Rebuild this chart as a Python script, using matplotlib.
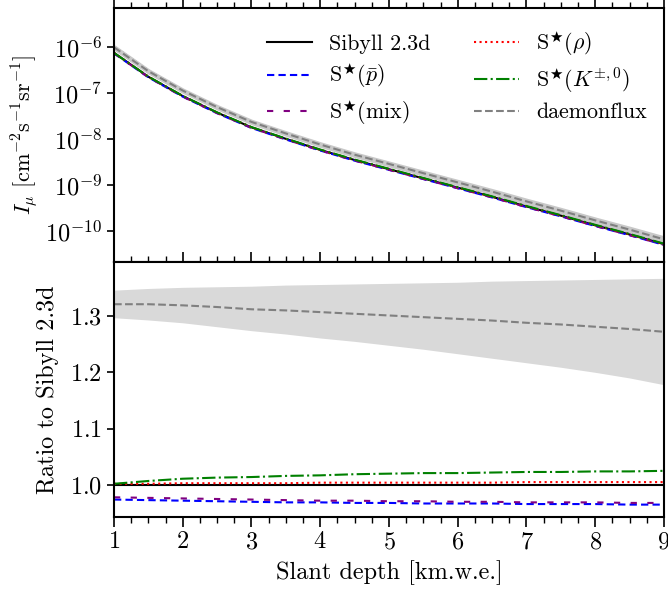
import numpy as np
import matplotlib
matplotlib.use("Agg")
import matplotlib.pyplot as plt

plt.rcParams['font.family'] = 'serif'
plt.rcParams['font.serif'] = ['cmr10', 'DejaVu Serif']
plt.rcParams['mathtext.fontset'] = 'cm'
plt.rcParams['axes.formatter.use_mathtext'] = True
plt.rcParams['font.size'] = 17.5

# slant depth grid [km.w.e.]
depth = [1.0, 1.5, 2.0, 2.5, 3.0, 3.5, 4.0, 4.5, 5.0, 5.5, 6.0, 6.5, 7.0, 7.5, 8.0, 8.5, 9.0]

# log10 of Sibyll 2.3d intensity
log_sibyll = [-6.13, -6.65, -7.07, -7.43, -7.75, -8.00, -8.24, -8.46, -8.66,
              -8.86, -9.06, -9.26, -9.47, -9.67, -9.88, -10.08, -10.29]

# ratios to Sibyll 2.3d
ratio_pbar = [0.974, 0.973, 0.972, 0.971, 0.970, 0.969, 0.969, 0.968, 0.968,
              0.967, 0.967, 0.967, 0.966, 0.966, 0.966, 0.965, 0.965]
ratio_mix = [0.978, 0.977, 0.976, 0.975, 0.974, 0.973, 0.972, 0.972, 0.971,
             0.971, 0.970, 0.970, 0.969, 0.969, 0.969, 0.968, 0.968]
ratio_rho = [1.002, 1.002, 1.003, 1.003, 1.003, 1.003, 1.004, 1.004, 1.004,
             1.004, 1.004, 1.004, 1.005, 1.005, 1.005, 1.005, 1.005]
ratio_kaon = [1.002, 1.007, 1.011, 1.013, 1.014, 1.016, 1.017, 1.019, 1.020,
              1.021, 1.021, 1.022, 1.023, 1.023, 1.024, 1.024, 1.025]
ratio_daemon = [1.321, 1.321, 1.319, 1.316, 1.312, 1.310, 1.307, 1.304, 1.301,
                1.298, 1.295, 1.292, 1.288, 1.285, 1.281, 1.277, 1.272]
daemon_hi = [1.346, 1.349, 1.351, 1.352, 1.353, 1.355, 1.356, 1.357, 1.358,
             1.359, 1.360, 1.362, 1.363, 1.364, 1.365, 1.366, 1.367]
daemon_lo = [1.297, 1.293, 1.288, 1.281, 1.274, 1.268, 1.261, 1.255, 1.248,
             1.241, 1.233, 1.225, 1.217, 1.209, 1.200, 1.190, 1.178]

x = np.array(depth)
sib = 10 ** np.array(log_sibyll)

fig = plt.figure(figsize=(6.68, 5.90), dpi=100)
left, right = 114 / 668, 664 / 668
y_top = 1 - 8 / 590
y_mid = 1 - 262 / 590
y_bot = 1 - 517 / 590
ax1 = fig.add_axes([left, y_mid, right - left, y_top - y_mid])
ax2 = fig.add_axes([left, y_bot, right - left, y_mid - y_bot])

styles = [
    ("Sibyll 2.3d", None, dict(color='black', ls='-', lw=1.5)),
    (r"S$^\bigstar(\bar{p})$", ratio_pbar, dict(color='blue', ls=(0, (3.5, 2)), lw=1.5)),
    (r"S$^\bigstar(\mathrm{mix})$", ratio_mix, dict(color='purple', ls=(0, (3, 5)), lw=1.5)),
    (r"S$^\bigstar(\rho)$", ratio_rho, dict(color='red', ls=':', lw=1.5)),
    (r"S$^\bigstar(K^{\pm,0})$", ratio_kaon, dict(color='green', ls='-.', lw=1.5)),
]

handles = []
for label, r, kw in styles:
    rr = np.ones_like(x) if r is None else np.array(r)
    h, = ax1.plot(x, sib * rr, label=label, **kw)
    ax2.plot(x, rr, **kw)
    handles.append(h)

ax1.fill_between(x, sib * np.array(daemon_lo), sib * np.array(daemon_hi),
                 facecolor='#c8c8c8', edgecolor='#c8c8c8', lw=3, zorder=1)
h, = ax1.plot(x, sib * np.array(ratio_daemon), color='gray', ls='--', lw=1.5,
              label='daemonflux')
handles.append(h)
ax2.fill_between(x, daemon_lo, daemon_hi, color='#d9d9d9', lw=0, zorder=1)
ax2.plot(x, ratio_daemon, color='gray', ls='--', lw=1.5)

ax1.set_yscale('log')
ax1.set_ylim(2.1e-11, 7e-6)
ax1.set_ylabel(r"$I_\mu\ [\mathrm{cm}^{-2}\mathrm{s}^{-1}\mathrm{sr}^{-1}]$", fontsize=16)
ax1.yaxis.set_minor_locator(matplotlib.ticker.NullLocator())
ax1.yaxis.set_label_coords(-0.135, 0.5)
ax1.legend(handles=handles, ncol=2, frameon=False, loc='upper right',
           fontsize=15.8, handlelength=2.05, handletextpad=0.78, columnspacing=2.0,
           labelspacing=0.35, bbox_to_anchor=(0.985, 0.953), borderaxespad=0)

ax2.set_ylim(0.943, 1.396)
ax2.set_yticks([1.0, 1.1, 1.2, 1.3])
ax2.set_ylabel("Ratio to Sibyll 2.3d")
ax2.yaxis.set_label_coords(-0.1, 0.5)
ax2.set_xlabel("Slant depth [km.w.e.]", labelpad=5)

for ax in (ax1, ax2):
    ax.set_xlim(1, 9)
    ax.xaxis.set_major_locator(matplotlib.ticker.MultipleLocator(1))
    ax.xaxis.set_minor_locator(matplotlib.ticker.AutoMinorLocator(4))
    ax.tick_params(axis='x', which='major', direction='out', length=7, width=1.2, pad=3)
    ax.tick_params(axis='x', which='minor', direction='out', length=4, width=1.0)
    ax.tick_params(axis='y', which='major', direction='out', length=5, width=1.2)
    for s in ax.spines.values():
        s.set_linewidth(1.5)
ax1.tick_params(axis='x', which='both', top=True, bottom=False, labelbottom=False)
ax2.tick_params(axis='x', which='both', top=True, bottom=True)

fig.savefig("out.png", dpi=100)
